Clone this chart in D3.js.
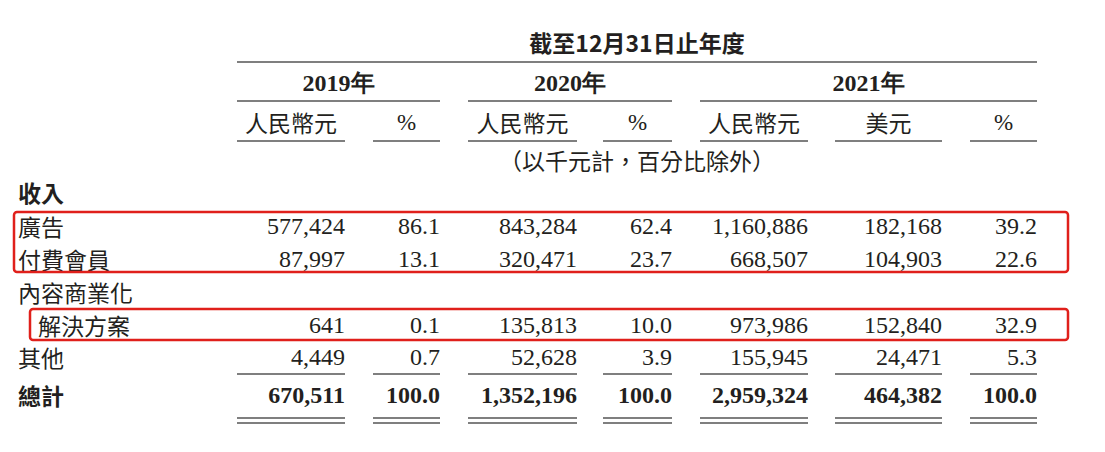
<!DOCTYPE html>
<html><head><meta charset="utf-8">
<script src="https://cdn.jsdelivr.net/npm/d3@7"></script>
<style>body{margin:0;background:#fff}</style>
</head><body>
<div class="module"></div>
<script>
const rowLabels = ['廣告','付費會員','內容商業化','解決方案','其他'];
const rowsY = [226, 259, 292, 325, 357];
const values = [
  ['577,424','86.1','843,284','62.4','1,160,886','182,168','39.2'],
  ['87,997','13.1','320,471','23.7','668,507','104,903','22.6'],
  null,
  ['641','0.1','135,813','10.0','973,986','152,840','32.9'],
  ['4,449','0.7','52,628','3.9','155,945','24,471','5.3']
];
const totals = ['670,511','100.0','1,352,196','100.0','2,959,324','464,382','100.0'];
const years = ['2019年','2020年','2021年'];
const subHeads = ['人民幣元','%','人民幣元','%','人民幣元','美元','%'];

const W = 1105, H = 452;
const cols = [[237,345],[373,440],[468,577],[603,672],[700,808],[835,942],[970,1037]];
const yearSpan = [[237,440],[468,672],[700,1037]];
const serif = '"Liberation Serif","Times New Roman",serif';
const cjk = '"Noto Sans CJK TC","Noto Sans CJK SC",sans-serif';
const ink = '#231f20';

const svg = d3.select('.module').append('svg').attr('width', W).attr('height', H);

function line(x1, x2, y, w) {
  svg.append('line').attr('x1', x1).attr('x2', x2).attr('y1', y).attr('y2', y)
    .style('stroke', '#555').style('stroke-width', w || 1.3);
}
function text(t, x, y, anchor, opts) {
  opts = opts || {};
  return svg.append('text').attr('x', x).attr('y', y).attr('text-anchor', anchor)
    .attr('dominant-baseline', 'central')
    .style('font-family', opts.font || serif).style('font-size', (opts.size || 24) + 'px')
    .style('font-weight', opts.bold ? 'bold' : 'normal').style('fill', ink).text(t);
}

text('截至12月31日止年度', 637, 42, 'middle', {font: cjk, size: 23, bold: true});
line(237, 1037, 62);
years.forEach((y, i) => {
  const s = yearSpan[i];
  text(y, (s[0] + s[1]) / 2, 83, 'middle', {bold: true, font: serif});
  line(s[0], s[1], 101);
});
subHeads.forEach((h, i) => {
  const c = cols[i];
  text(h, (c[0] + c[1]) / 2, 122, 'middle', {font: h === '%' ? serif : cjk, size: 23});
  line(c[0], c[1], 141);
});
text('（以千元計，百分比除外）', 637, 160, 'middle', {font: cjk, size: 23});

text('收入', 18, 192, 'start', {font: cjk, size: 23, bold: true});
rowLabels.forEach((l, i) => {
  text(l, i === 3 ? 38 : 18, rowsY[i], 'start', {font: cjk, size: 23});
  if (values[i]) values[i].forEach((v, j) => text(v, cols[j][1], rowsY[i], 'end'));
});
cols.forEach(c => line(c[0], c[1], 374));
text('總計', 18, 395, 'start', {font: cjk, size: 23, bold: true});
totals.forEach((v, j) => text(v, cols[j][1], 395, 'end', {bold: true}));
cols.forEach(c => { line(c[0], c[1], 418); line(c[0], c[1], 423); });

// red highlight boxes
[[14, 212, 1054, 60], [30, 309, 1038, 31]].forEach(b => {
  svg.append('rect').attr('x', b[0]).attr('y', b[1]).attr('width', b[2]).attr('height', b[3])
    .attr('rx', 3).style('fill', 'none').style('stroke', '#e0201b').style('stroke-width', 2.5);
});
</script>
</body></html>
